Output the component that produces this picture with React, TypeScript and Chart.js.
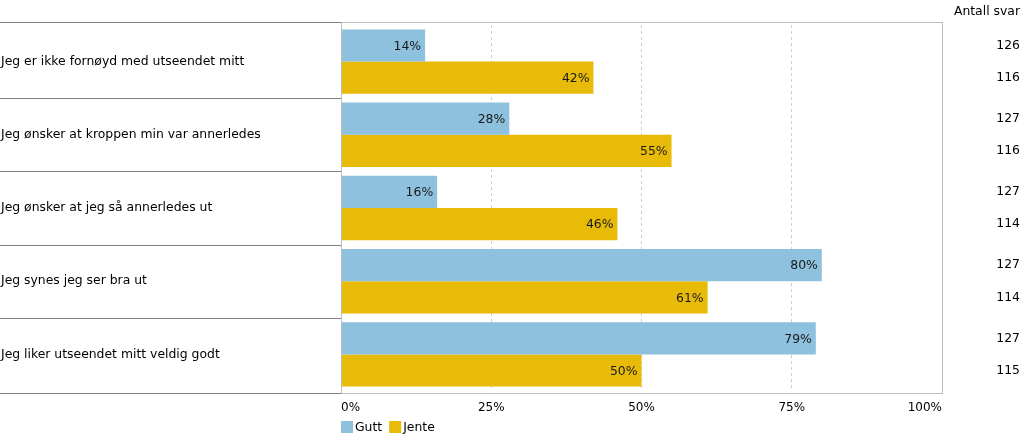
import React, { useEffect, useRef } from "react";
import { Chart, registerables } from "chart.js";

Chart.register(...registerables);

const categories = [
  "Jeg er ikke fornøyd med utseendet mitt",
  "Jeg ønsker at kroppen min var annerledes",
  "Jeg ønsker at jeg så annerledes ut",
  "Jeg synes jeg ser bra ut",
  "Jeg liker utseendet mitt veldig godt",
];
const seriesNames = ["Gutt", "Jente"];
const guttValues = [14, 28, 16, 80, 79];
const jenteValues = [42, 55, 46, 61, 50];
const guttCounts = [126, 127, 127, 127, 127];
const jenteCounts = [116, 116, 114, 114, 115];
const xTickValues = [0, 25, 50, 75, 100];
const countHeader = "Antall svar";

const COLORS = ["#8dc1de", "#e8bb09"];
const FONT = "'DejaVu Sans', Verdana, sans-serif";

export default function App() {
  const ref = useRef<HTMLCanvasElement | null>(null);

  useEffect(() => {
    document.body.style.margin = "0";
    const canvas = ref.current;
    if (!canvas) return;
    const counts = [guttCounts, jenteCounts];

    const decor = {
      id: "decor",
      afterDatasetsDraw(chart: any) {
        const ctx = chart.ctx;
        ctx.save();
        ctx.font = `12.4px ${FONT}`;
        ctx.fillStyle = "#1a1a1a";
        ctx.textAlign = "right";
        ctx.textBaseline = "middle";
        chart.data.datasets.forEach((ds: any, di: number) => {
          const meta = chart.getDatasetMeta(di);
          meta.data.forEach((el: any, i: number) => {
            ctx.fillText(`${ds.data[i]}%`, el.x - 4, el.y + 1);
          });
        });
        ctx.restore();
      },
      afterDraw(chart: any) {
        const ctx = chart.ctx;
        const { left, right, top, bottom } = chart.chartArea;
        const ys = chart.scales.y;
        const n = categories.length;
        const bTop = top - 3;
        const bBottom = bottom + 2;
        ctx.save();
        // left label separator lines
        ctx.strokeStyle = "#808080";
        ctx.lineWidth = 1;
        for (let i = 0; i <= n; i++) {
          let y;
          if (i === 0) y = bTop;
          else if (i === n) y = bBottom;
          else y = (ys.getPixelForValue(i - 1) + ys.getPixelForValue(i)) / 2;
          y = Math.round(y) + 0.5;
          ctx.beginPath();
          ctx.moveTo(0, y);
          ctx.lineTo(left, y);
          ctx.stroke();
        }
        // plot border
        ctx.strokeStyle = "#bdbdbd";
        ctx.strokeRect(Math.round(left) + 0.5, Math.round(bTop) + 0.5, Math.round(right - left), Math.round(bBottom - bTop));
        // category labels
        ctx.font = `12.4px ${FONT}`;
        ctx.fillStyle = "#000";
        ctx.textAlign = "left";
        ctx.textBaseline = "middle";
        categories.forEach((c, i) => {
          ctx.fillText(c, 1, ys.getPixelForValue(i));
        });
        // counts column
        ctx.textAlign = "right";
        ctx.fillText(countHeader, 1020, 12);
        [0, 1].forEach((di) => {
          const meta = chart.getDatasetMeta(di);
          meta.data.forEach((el: any, i: number) => {
            ctx.fillText(String(counts[di][i]), 1020, el.y);
          });
        });
        // legend
        let lx = left;
        const ly = 427;
        ctx.textAlign = "left";
        seriesNames.forEach((name, i) => {
          ctx.fillStyle = COLORS[i];
          ctx.fillRect(lx, ly - 6, 12, 12);
          ctx.fillStyle = "#000";
          ctx.fillText(name, lx + 14, ly + 1);
          lx += 14 + ctx.measureText(name).width + 7;
        });
        ctx.restore();
      },
    };

    const chart = new Chart(canvas, {
      type: "bar",
      data: {
        labels: categories,
        datasets: [
          { label: seriesNames[0], data: guttValues, backgroundColor: COLORS[0], barPercentage: 1, categoryPercentage: 0.88 },
          { label: seriesNames[1], data: jenteValues, backgroundColor: COLORS[1], barPercentage: 1, categoryPercentage: 0.88 },
        ],
      },
      options: {
        indexAxis: "y",
        responsive: false,
        animation: false,
        layout: { padding: { left: 341, right: 81, top: 25, bottom: 0 } },
        plugins: { legend: { display: false }, tooltip: { enabled: false } },
        scales: {
          x: {
            min: 0,
            max: 100,
            afterFit(s: any) {
              s.height = 47;
            },
            afterBuildTicks(s: any) {
              s.ticks = xTickValues.map((v) => ({ value: v }));
            },
            ticks: {
              align: "inner",
              padding: 10,
              color: "#000",
              font: { family: FONT, size: 12 },
              callback: (v: any) => `${v}%`,
            },
            grid: {
              drawTicks: false,
              color: (c: any) => (c.tick && (c.tick.value === 0 || c.tick.value === 100) ? "rgba(0,0,0,0)" : "#cfcfcf"),
            },
            border: { display: false, dash: [3, 3] },
          },
          y: {
            ticks: { display: false },
            grid: { display: false },
            border: { display: false },
            afterFit(s: any) {
              s.width = 0;
            },
          },
        },
      },
      plugins: [decor],
    } as any);
    return () => chart.destroy();
  }, []);

  return <canvas ref={ref} width={1023} height={438} style={{ display: "block" }} />;
}
